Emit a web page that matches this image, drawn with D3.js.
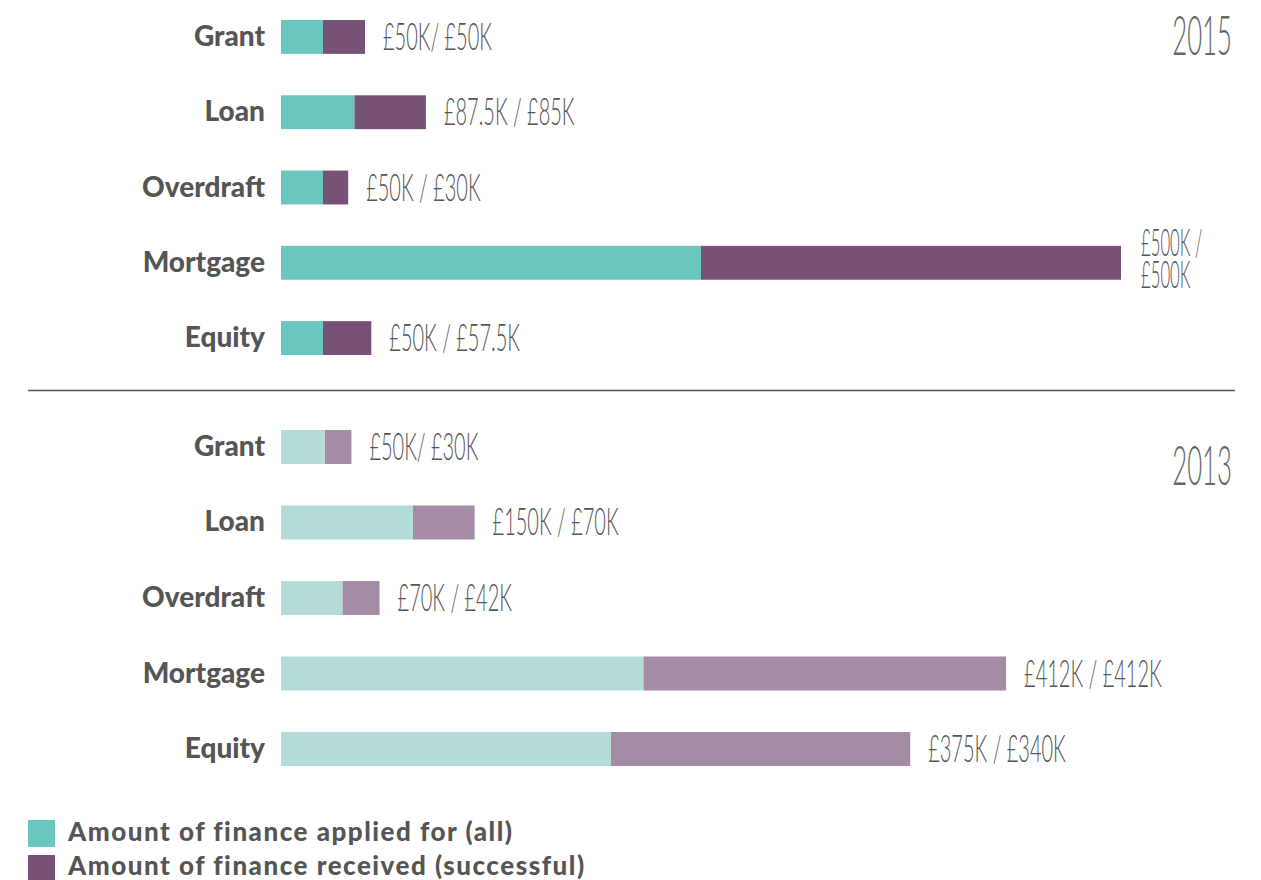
<!DOCTYPE html>
<html>
<head>
<meta charset="utf-8">
<script src="https://cdn.jsdelivr.net/npm/d3@7"></script>
<style>
  body { margin: 0; background: #fff; }
  .cat { font-family: Lato, "Open Sans", sans-serif; font-weight: 900; font-size: 28px; fill: #555; }
  .leg { font-family: Lato, "Open Sans", sans-serif; font-weight: 900; font-size: 26px; fill: #555; letter-spacing: 1.5px; }
  .val { font-family: Lato, "Open Sans", sans-serif; font-weight: 300; font-size: 37px; fill: #555; }
  .year { font-family: Lato, "Open Sans", sans-serif; font-weight: 300; font-size: 56px; fill: #666; }
</style>
</head>
<body>
<div id="chart"></div>
<script>
// 类别
var categories = ['Grant', 'Loan', 'Overdraft', 'Mortgage', 'Equity'];
// 2015 (K)
var applied2015 = [50, 87.5, 50, 500, 50];
var received2015 = [50, 85, 30, 500, 57.5];
var labels2015 = ['£50K/ £50K', '£87.5K / £85K', '£50K / £30K', '£500K / £500K', '£50K / £57.5K'];
// 2013 (K)
var applied2013 = [50, 150, 70, 412, 375];
var received2013 = [30, 70, 42, 412, 340];
var labels2013 = ['£50K/ £30K', '£150K / £70K', '£70K / £42K', '£412K / £412K', '£375K / £340K'];
var legendItems = ['Amount of finance applied for (all)', 'Amount of finance received (successful)'];

var opt = {
    width: 1261,
    height: 880,
    barX: 281,
    labelRight: 265,
    textGap: 18,
    maxRight: 1240,
    valSx: 0.54, // 数值文字横向压缩
    yearSx: 0.46
};

var svg = d3.select('#chart').append('svg')
    .attr('width', opt.width).attr('height', opt.height);

function drawPanel(cfg) {
    var g = svg.append('g');
    var y = d3.scaleBand().domain(categories).range(cfg.yRange).paddingInner(0.55).paddingOuter(0);
    var x = d3.scaleLinear().domain([0, 1000]).range([opt.barX, opt.barX + cfg.pxPer1000]);

    categories.forEach(function (c, i) {
        var a = cfg.applied[i], r = cfg.received[i];
        var yy = y(c);
        var mid = yy + y.bandwidth() / 2;
        // 类别文字
        g.append('text').attr('class', 'cat')
            .attr('x', opt.labelRight).attr('y', mid + 9)
            .attr('text-anchor', 'end').text(c);
        // applied
        g.append('rect').attr('x', x(0)).attr('y', yy)
            .attr('width', x(a) - x(0)).attr('height', y.bandwidth())
            .attr('fill', cfg.colors[0]);
        // received
        g.append('rect').attr('x', x(a)).attr('y', yy)
            .attr('width', x(a + r) - x(a)).attr('height', y.bandwidth())
            .attr('fill', cfg.colors[1]);
        // 数值标签
        var tx = x(a + r) + opt.textGap;
        var probe = svg.append('text').attr('class', 'val').text(cfg.labels[i]);
        var w = probe.node().getComputedTextLength() * opt.valSx;
        probe.remove();
        if (tx + w <= opt.maxRight) {
            g.append('g').attr('transform', 'translate(' + tx + ',' + (mid + 13) + ') scale(' + opt.valSx + ',1)')
                .append('text').attr('class', 'val').text(cfg.labels[i]);
        } else {
            // 太长则换行
            var parts = cfg.labels[i].split(' / ');
            [parts[0] + ' /', parts[1]].forEach(function (p, k) {
                g.append('g').attr('transform', 'translate(' + (tx + 2) + ',' + (mid - 7 + k * 32) + ') scale(' + opt.valSx + ',1.2)')
                    .append('text').attr('class', 'val').style('font-size', '31px').text(p);
            });
        }
    });

    g.append('g').attr('transform', 'translate(1232,' + cfg.yearY + ') scale(' + opt.yearSx + ',1)')
        .append('text').attr('class', 'year')
        .attr('text-anchor', 'end').text(cfg.year);
}

drawPanel({
    year: '2015', yearY: 55,
    applied: applied2015, received: received2015, labels: labels2015,
    yRange: [20, 355], pxPer1000: 840,
    colors: ['#69c7bf', '#785177']
});

drawPanel({
    year: '2013', yearY: 485,
    applied: applied2013, received: received2013, labels: labels2013,
    yRange: [430, 766], pxPer1000: 880,
    colors: ['#b3dcd9', '#a58ba5']
});

// 分隔线
svg.append('line').attr('x1', 28).attr('y1', 390.5).attr('x2', 1235).attr('y2', 390.5)
    .style('stroke', '#555').style('stroke-width', 1.5);

// 图例
var legendColors = ['#69c7bf', '#785177'];
legendItems.forEach(function (d, i) {
    svg.append('rect').attr('x', 28).attr('y', 820 + i * 35)
        .attr('width', 27).attr('height', 27).attr('fill', legendColors[i]);
    svg.append('text').attr('class', 'leg')
        .attr('x', 68).attr('y', 841 + i * 34).text(d);
});
</script>
</body>
</html>
